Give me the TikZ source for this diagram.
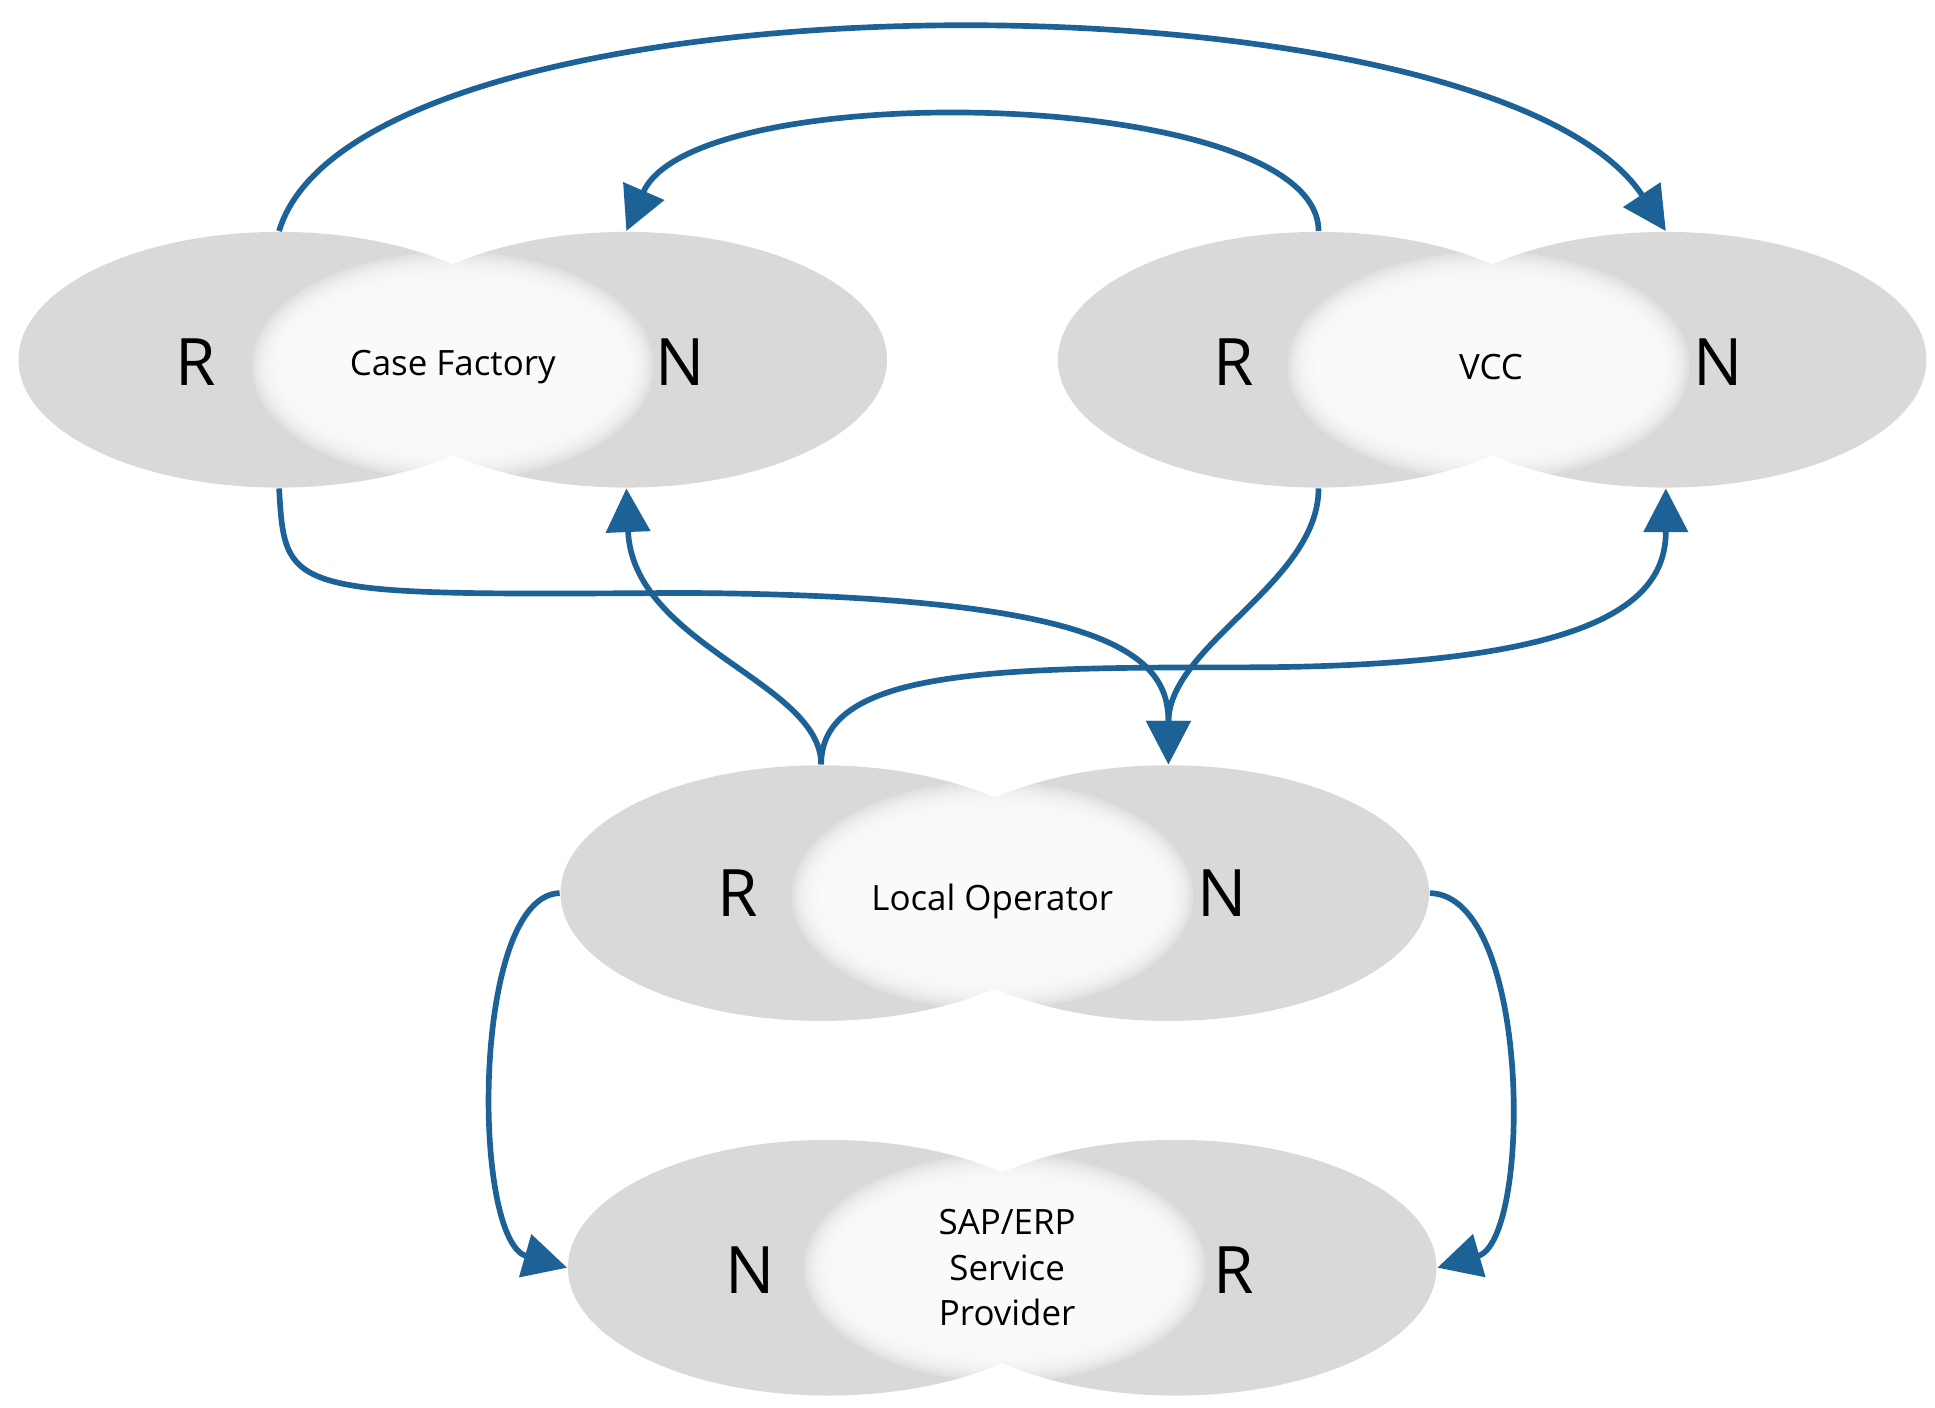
\documentclass[tikz,border=0pt]{standalone}
\usepackage{fontspec}
\setmainfont{Open Sans}
\usetikzlibrary{shapes.geometric,arrows.meta}
\definecolor{ell}{RGB}{217,217,217}
\definecolor{arr}{RGB}{28,98,150}
\tikzset{
 ov/.style={ellipse,fill=ell,minimum width=4.2cm,minimum height=2.06cm,inner sep=0},
 big/.style={font=\fontsize{15}{18}\selectfont},
 sm/.style={font=\fontsize{8}{10.5}\selectfont,align=center},
 con/.style={draw=arr,line width=1.3pt,-{Triangle[length=10pt,width=10pt]}},
 con0/.style={draw=arr,line width=1.3pt}
}
\newcommand{\glow}[3]{%
 \foreach \k in {0,...,9}{\fill[white,opacity=0.22] (#1,#2) ellipse ({(#3+22-2.6*\k)*0.01cm} and {(70+22-2.6*\k)*0.01cm});}}
\begin{document}
\begin{tikzpicture}[x=0.01cm,y=-0.01cm]
\useasboundingbox (0,0) rectangle (1560,1135);
% Case Factory
\node[ov] (cfL) at (225,290) {};
\node[ov] (cfR) at (505,290) {};
\glow{365}{295}{140}
\node[big] (cfr) at (158,292) {R};
\node[big] (cfn) at (548,292) {N};
\node[sm] (cft) at (365,296) {Case Factory};
% VCC
\node[ov] (vL) at (1063,290) {};
\node[ov] (vR) at (1343,290) {};
\glow{1200}{295}{140}
\node[big] (vr) at (995,292) {R};
\node[big] (vn) at (1385,292) {N};
\node[sm] (vt) at (1202,296) {VCC};
% Local Operator
\node[ov] (lL) at (662,720) {};
\node[ov] (lR) at (942,720) {};
\glow{800}{722}{140}
\node[big] (lr) at (595,720) {R};
\node[big] (ln) at (985,720) {N};
\node[sm] (lt) at (800,727) {Local Operator};
% SAP
\node[ov] (sL) at (668,1022) {};
\node[ov] (sR) at (948,1022) {};
\glow{810}{1022}{140}
\node[big] (sn) at (605,1024) {N};
\node[big] (sr) at (995,1024) {R};
\node[sm] (st) at (812,1022) {SAP/ERP\\Service\\Provider};
% connectors
\draw[con] (cfL.north) .. controls (290,-30) and (1200,-30) .. (vR.north);
\draw[con] (vL.north) .. controls (1063,70) and (560,60) .. (cfR.north);
\draw[con] (cfL.south) .. controls (230,480) .. (550,478) .. controls (900,480) and (942,530) .. (lR.north);
\draw[con] (vL.south) .. controls (1063,470) and (942,520) .. (lR.north);
\draw[con] (lL.north) .. controls (662,550) and (510,520) .. (cfR.south);
\draw[con] (lL.north) .. controls (662,540) and (800,538) .. (1000,538) .. controls (1300,538) and (1343,480) .. (vR.south);
\draw[con] (lL.west) .. controls (380,722) and (380,1000) .. (sL.west);
\draw[con] (lR.east) .. controls (1235,722) and (1235,1000) .. (sR.east);
\end{tikzpicture}
\end{document}
